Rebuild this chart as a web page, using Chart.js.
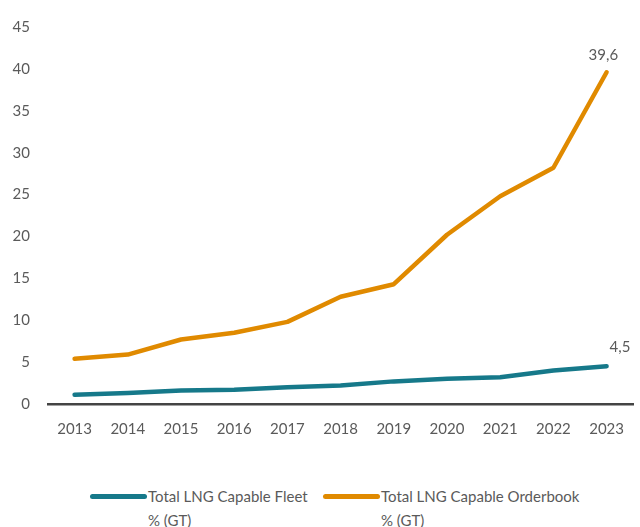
<!DOCTYPE html>
<html>
<head>
<meta charset="utf-8">
<script src="https://cdn.jsdelivr.net/npm/chart.js@4"></script>
<style>
    html, body { margin: 0; padding: 0; background: #fff; }
    #wrap { position: relative; width: 640px; height: 454px; }
    .legend { position: absolute; top: 484px; font-family: Lato, sans-serif; font-size: 15px; color: #5a5a5a; line-height: 24px; }
    .legend .swatch { position: absolute; left: 0; top: 10px; width: 57px; height: 5px; border-radius: 3px; }
    .legend .text { margin-left: 58px; white-space: nowrap; }
</style>
</head>
<body>
<div id="wrap"><canvas id="chart"></canvas></div>
<div class="legend" style="left:90px"><div class="swatch" style="background:#16798a"></div><div class="text">Total LNG Capable Fleet</div><div class="text">% (GT)</div></div>
<div class="legend" style="left:323px"><div class="swatch" style="background:#e08a00"></div><div class="text">Total LNG Capable Orderbook</div><div class="text">% (GT)</div></div>
<script>
const years = ['2013', '2014', '2015', '2016', '2017', '2018', '2019', '2020', '2021', '2022', '2023'];
const fleetValues = [1.1, 1.3, 1.6, 1.7, 2.0, 2.2, 2.7, 3.0, 3.2, 4.0, 4.5];
const orderbookValues = [5.4, 5.9, 7.7, 8.5, 9.8, 12.8, 14.3, 20.2, 24.8, 28.2, 39.6];
const yTicks = [0, 5, 10, 15, 20, 25, 30, 35, 40, 45];

// value label above the last point of each line
const lastLabelPlugin = {
    id: 'lastLabel',
    afterDatasetsDraw(chart) {
        const ctx = chart.ctx;
        ctx.save();
        ctx.font = '15px Lato, sans-serif';
        ctx.fillStyle = '#5a5a5a';
        ctx.textAlign = 'left';
        ctx.textBaseline = 'bottom';
        chart.data.datasets.forEach((ds, i) => {
            const meta = chart.getDatasetMeta(i);
            const pt = meta.data[meta.data.length - 1];
            const v = ds.data[ds.data.length - 1];
            const txt = v.toFixed(1).replace('.', ',');
            if (i === 0) ctx.fillText(txt, pt.x + 3, pt.y - 12);
            else ctx.fillText(txt, pt.x - 18, pt.y - 10);
        });
        ctx.restore();
    }
};

new Chart(document.getElementById('chart'), {
    type: 'line',
    data: {
        labels: years,
        datasets: [
            { label: 'Total LNG Capable Fleet % (GT)', data: fleetValues, borderColor: '#16798a', borderWidth: 4.5, pointRadius: 0, tension: 0, borderCapStyle: 'round', borderJoinStyle: 'round' },
            { label: 'Total LNG Capable Orderbook % (GT)', data: orderbookValues, borderColor: '#e08a00', borderWidth: 4.5, pointRadius: 0, tension: 0, borderCapStyle: 'round', borderJoinStyle: 'round' }
        ]
    },
    options: {
        responsive: true,
        maintainAspectRatio: false,
        animation: false,
        layout: { padding: { top: 14, right: 0, left: 0 } },
        plugins: { legend: { display: false }, tooltip: { enabled: false } },
        scales: {
            x: {
                offset: true,
                grid: { display: false, drawTicks: false },
                border: { color: '#444', width: 2.5 },
                ticks: { color: '#5a5a5a', font: { family: 'Lato', size: 15 }, padding: 16 }
            },
            y: {
                min: 0,
                max: 45,
                afterBuildTicks(axis) { axis.ticks = yTicks.map(v => ({ value: v })); },
                afterFit(axis) { axis.width = 48; },
                grid: { display: false, drawTicks: false },
                border: { display: false },
                ticks: { color: '#5a5a5a', font: { family: 'Lato', size: 15 }, padding: 18 }
            }
        }
    },
    plugins: [lastLabelPlugin]
});
</script>
</body>
</html>
